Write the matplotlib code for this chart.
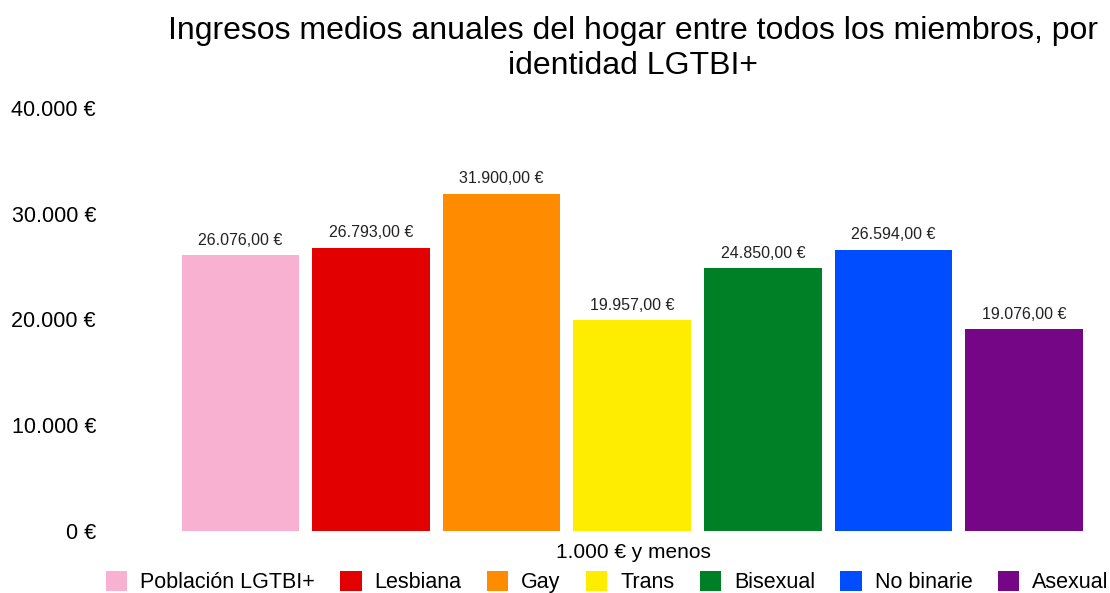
import matplotlib.pyplot as plt
from matplotlib.patches import Patch

categories = ['Población LGTBI+', 'Lesbiana', 'Gay', 'Trans', 'Bisexual', 'No binarie', 'Asexual']
ingresos = [26076, 26793, 31900, 19957, 24850, 26594, 19076]
colores = ['#F9B1D2', '#E30000', '#FF8C00', '#FFED00', '#008026', '#004DFF', '#750787']
yticks = [0, 10000, 20000, 30000, 40000]


def euros(v, decimales=0):
    """formato español: punto de miles, coma decimal"""
    s = f'{v:,.{decimales}f}'
    s = s.replace(',', 'X').replace('.', ',').replace('X', '.')
    return s + ' €'


def plot():
    plt.rcParams['font.family'] = ['Liberation Sans', 'DejaVu Sans']
    fig = plt.figure(figsize=(11.1, 5.93), dpi=100)
    ax = fig.add_axes([0.099, 0.1046, 0.9, 0.7133])

    xs = list(range(len(categories)))
    bars = ax.bar(xs, ingresos, width=0.9, color=colores)
    for b, v in zip(bars, ingresos):
        ax.text(b.get_x() + b.get_width() / 2, v + 700, euros(v, 2),
                ha='center', va='bottom', fontsize=11.5, color='#222222')

    ax.set_xlim(-1.0, 6.65)
    ax.set_ylim(0, 40000)
    ax.set_yticks(yticks)
    ax.set_yticklabels([euros(t) for t in yticks], fontsize=15.5)
    ax.tick_params(axis='y', length=0, pad=10)
    ax.set_xticks([])
    for s in ax.spines.values():
        s.set_visible(False)

    fig.text(0.57, 0.919, 'Ingresos medios anuales del hogar entre todos los miembros, por\nidentidad LGTBI+',
             ha='center', va='center', fontsize=23, linespacing=1.22)
    fig.text(0.5705, 0.068, '1.000 € y menos', ha='center', va='center', fontsize=15)

    handles = [Patch(facecolor=c, label=n) for c, n in zip(colores, categories)]
    fig.legend(handles=handles, loc='center', bbox_to_anchor=(0.547, 0.018), ncol=7,
               frameon=False, fontsize=15.5, handlelength=1.0, handleheight=1.0,
               handletextpad=0.6, columnspacing=1.17)

    fig.savefig('out.png', dpi=100)


if __name__ == '__main__':
    plot()
